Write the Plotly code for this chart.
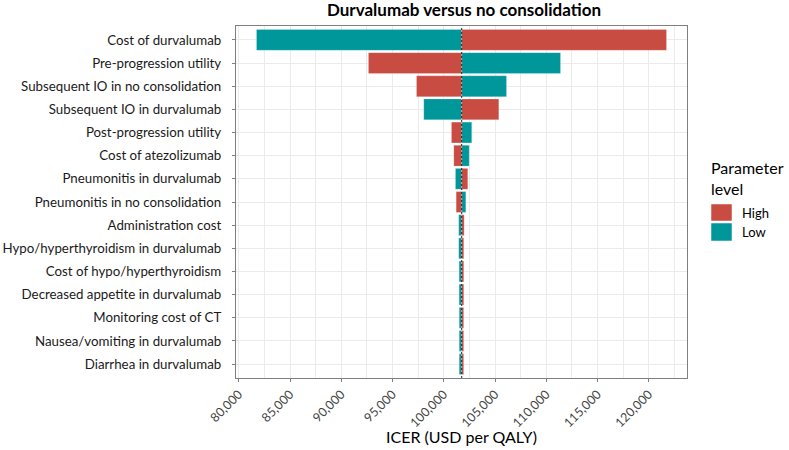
import plotly.graph_objects as go

# ---------------- data ----------------
categories = [
    "Cost of durvalumab",
    "Pre-progression utility",
    "Subsequent IO in no consolidation",
    "Subsequent IO in durvalumab",
    "Post-progression utility",
    "Cost of atezolizumab",
    "Pneumonitis in durvalumab",
    "Pneumonitis in no consolidation",
    "Administration cost",
    "Hypo/hyperthyroidism in durvalumab",
    "Cost of hypo/hyperthyroidism",
    "Decreased appetite in durvalumab",
    "Monitoring cost of CT",
    "Nausea/vomiting in durvalumab",
    "Diarrhea in durvalumab",
]
base_icer = 101750
icer_low = [81730, 111390, 106120, 98050, 102730, 102480, 101140, 102150,
            101460, 101460, 101500, 101500, 101510, 101510, 101510]
icer_high = [121730, 92650, 97340, 105370, 100750, 100980, 102340, 101210,
             101990, 101950, 101950, 101950, 101940, 101940, 101940]
x_ticks = [80000, 85000, 90000, 95000, 100000, 105000, 110000, 115000, 120000]
x_range = [79730, 123730]

RED = "#C94C42"
TEAL = "#00979B"
FONT = "Lato"

# plot area geometry in pixels
W, H = 789, 450
L, R, T, B = 236, 102, 26, 72
PW, PH = W - L - R, H - T - B


def px(xp):
    return (xp - L) / PW


def py(yp):
    return (H - B - yp) / PH


fig = go.Figure()
fig.add_trace(go.Bar(
    y=categories, x=[v - base_icer for v in icer_low], base=base_icer,
    orientation="h", marker=dict(color=TEAL, line=dict(color="rgba(255,255,255,0.35)", width=0.6)),
    width=0.9, name="Low", showlegend=False))
fig.add_trace(go.Bar(
    y=categories, x=[v - base_icer for v in icer_high], base=base_icer,
    orientation="h", marker=dict(color=RED, line=dict(color="rgba(255,255,255,0.35)", width=0.6)),
    width=0.9, name="High", showlegend=False))

fig.add_shape(type="line", xref="x", yref="paper", x0=base_icer, x1=base_icer,
              y0=0, y1=1, line=dict(color="#222222", width=1, dash="2px,2px"), layer="above")

# manual legend
fig.add_annotation(xref="paper", yref="paper", x=px(709), y=py(156), xanchor="left", yanchor="top",
                   text="Parameter<br>level", showarrow=False, align="left",
                   font=dict(family=FONT, size=16, color="#000000"))
for label, col, y0, y1 in [("High", RED, 204, 221), ("Low", TEAL, 223, 241)]:
    fig.add_shape(type="rect", xref="paper", yref="paper", x0=px(711), x1=px(732),
                  y0=py(y1), y1=py(y0), fillcolor=col, line=dict(color="white", width=0.5))
    fig.add_annotation(xref="paper", yref="paper", x=px(740), y=py((y0 + y1) / 2),
                       xanchor="left", yanchor="middle", text=label, showarrow=False,
                       font=dict(family=FONT, size=13, color="#000000"))

# x axis title
fig.add_annotation(xref="paper", yref="paper", x=0.5, y=py(437), xanchor="center", yanchor="middle",
                   text="ICER (USD per QALY)", showarrow=False,
                   font=dict(family=FONT, size=16, color="#000000"))

fig.update_layout(
    width=W, height=H,
    margin=dict(l=L, r=R, t=T, b=B, autoexpand=False),
    paper_bgcolor="white", plot_bgcolor="white",
    barmode="overlay", bargap=0.1,
    title=dict(text="<b>Durvalumab versus no consolidation</b>", xref="paper", x=px(464),
               xanchor="center", yref="container", y=1 - 10.5 / H, yanchor="middle",
               font=dict(family=FONT, size=17, color="#000000")),
    font=dict(family=FONT),
)
fig.update_xaxes(
    range=x_range, tickvals=x_ticks, ticktext=[f"{v:,}" for v in x_ticks], tickangle=-45,
    tickfont=dict(family=FONT, size=12.5, color="#444444"),
    showgrid=True, gridcolor="#EBEBEB", gridwidth=1,
    minor=dict(dtick=2500, tick0=80000, showgrid=True, gridcolor="#EBEBEB", gridwidth=0.6),
    showline=True, mirror=True, linecolor="#7F7F7F", linewidth=1.2,
    ticks="outside", ticklen=3, tickcolor="#7F7F7F", zeroline=False,
)
fig.update_yaxes(
    categoryorder="array", categoryarray=categories, range=[len(categories) - 0.4, -0.6],
    tickfont=dict(family=FONT, size=13.3, color="#1A1A1A"),
    ticklabelstandoff=8,
    showgrid=True, gridcolor="#EBEBEB", gridwidth=1,
    showline=True, mirror=True, linecolor="#7F7F7F", linewidth=1.2,
    ticks="outside", ticklen=3, tickcolor="#7F7F7F", zeroline=False,
)

fig.write_html("out.html")
